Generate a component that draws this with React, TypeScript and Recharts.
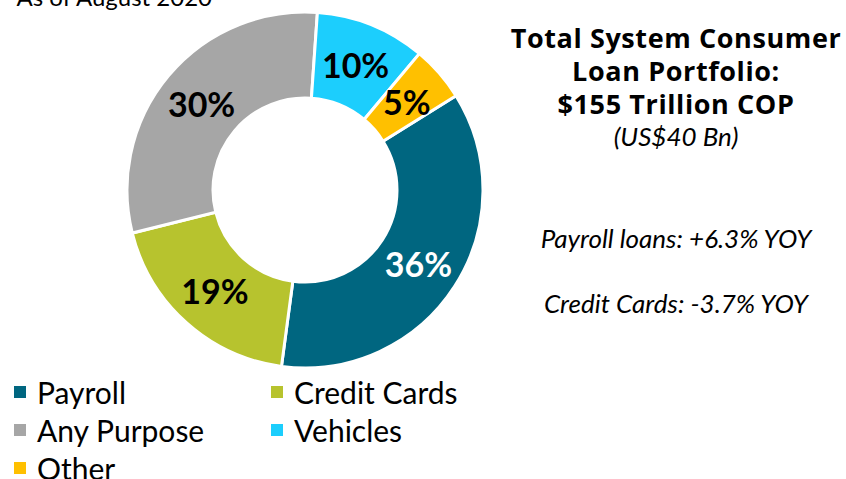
import { Legend, Pie, PieChart, Cell } from 'recharts';

const categories = ['Payroll', 'Credit Cards', 'Any Purpose', 'Vehicles', 'Other'];
const shares = [36, 19, 30, 10, 5];
const colors = ['#006680', '#B7C32E', '#A6A6A6', '#1CCEFD', '#FFC000'];
const labelColors = ['#FFFFFF', '#000000', '#000000', '#000000', '#000000'];

const titleLines = ['Total System Consumer', 'Loan Portfolio:', '$155 Trillion COP'];
const subtitle = '(US$40 Bn)';
const notes = ['Payroll loans: +6.3% YOY', 'Credit Cards: -3.7% YOY'];
const asOf = 'As of August 2020';

const FONT = 'Lato, "Open Sans", sans-serif';
const RADIAN = Math.PI / 180;

const data = categories.map((name, i) => ({ name, value: shares[i] }));

// slice labels sit at the middle of the ring
function renderLabel(props: any) {
  const { cx, cy, midAngle, innerRadius, outerRadius, index, value } = props;
  const r = (innerRadius + outerRadius) / 2;
  const x = cx + r * Math.cos(-midAngle * RADIAN);
  const y = cy + r * Math.sin(-midAngle * RADIAN);
  return (
    <text
      x={x}
      y={y}
      fill={labelColors[index]}
      textAnchor="middle"
      dominantBaseline="central"
      style={{ fontFamily: FONT, fontSize: 34, fontWeight: 700 }}
    >
      {`${value}%`}
    </text>
  );
}

function LegendGrid() {
  return (
    <div
      style={{
        display: 'grid',
        gridTemplateColumns: '257px 220px',
        fontFamily: FONT,
        fontSize: 30,
        color: '#000',
        lineHeight: '38px',
      }}
    >
      {categories.map((c, i) => (
        <div key={c} style={{ display: 'flex', alignItems: 'center' }}>
          <span style={{ width: 12, height: 12, background: colors[i], marginRight: 11, display: 'inline-block' }} />
          {c}
        </div>
      ))}
    </div>
  );
}

export default function App() {
  return (
    <div style={{ position: 'absolute', left: 0, top: 0, width: 846, height: 479, background: '#fff', overflow: 'hidden' }}>
      <PieChart width={846} height={479} margin={{ top: 0, right: 0, bottom: 0, left: 0 }}>
        <Pie
          data={data}
          dataKey="value"
          nameKey="name"
          cx={305}
          cy={190}
          innerRadius={92}
          outerRadius={178}
          startAngle={32}
          endAngle={-328}
          stroke="#FFFFFF"
          strokeWidth={3}
          label={renderLabel}
          labelLine={false}
          isAnimationActive={false}
        >
          {data.map((d, i) => (
            <Cell key={d.name} fill={colors[i]} />
          ))}
        </Pie>
        <Legend
          content={() => <LegendGrid />}
          wrapperStyle={{ position: 'absolute', left: 14, top: 373, width: 480 }}
        />
      </PieChart>
      <div
        style={{
          position: 'absolute',
          right: 634,
          top: -18,
          fontFamily: FONT,
          fontSize: 24,
          whiteSpace: 'nowrap',
          color: '#000',
        }}
      >
        {asOf}
      </div>
      <div
        style={{
          position: 'absolute',
          left: 476,
          top: 21,
          width: 400,
          textAlign: 'center',
          color: '#000',
        }}
      >
        {titleLines.map((t) => (
          <div
            key={t}
            style={{ fontFamily: '"Open Sans", sans-serif', fontSize: 27, fontWeight: 700, lineHeight: '33px', letterSpacing: 0.6 }}
          >
            {t}
          </div>
        ))}
        <div style={{ fontFamily: FONT, fontSize: 26, fontStyle: 'italic', lineHeight: '32px', marginTop: 0 }}>{subtitle}</div>
        <div style={{ fontFamily: FONT, fontSize: 26, fontStyle: 'italic', lineHeight: '32px', marginTop: 70 }}>{notes[0]}</div>
        <div style={{ fontFamily: FONT, fontSize: 26, fontStyle: 'italic', lineHeight: '32px', marginTop: 33 }}>{notes[1]}</div>
      </div>
    </div>
  );
}
